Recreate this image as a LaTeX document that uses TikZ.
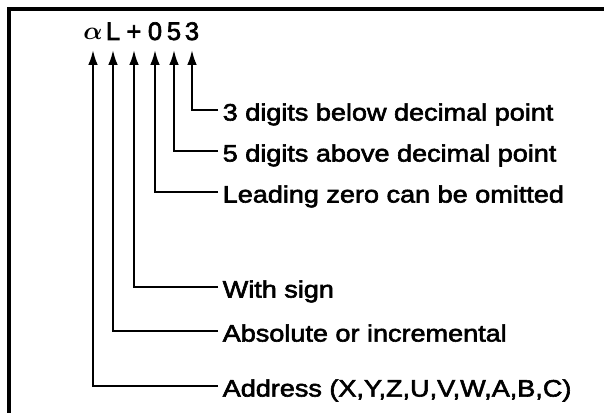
\documentclass[tikz,border=0pt]{standalone}
\usepackage{amsmath}
\usepackage{fontspec}
\setmainfont{Liberation Sans}
\newfontfamily\notefont[FakeStretch=1.14,FakeBold=2.5]{Liberation Sans}
\newfontfamily\digitfont[FakeBold=2.5]{Liberation Sans}
\usetikzlibrary{arrows.meta, positioning}

\begin{document}
\begin{tikzpicture}[
    x=0.02cm, y=-0.02cm,
    digit/.style={
        anchor=base, inner xsep=0pt, inner ysep=5.5pt, text depth=0pt,
        font=\digitfont\fontsize{14.5}{17}\selectfont
    },
    note/.style={
        anchor=west, inner xsep=2.5pt, text height=12pt, text depth=0pt,
        font=\notefont\fontsize{13.5}{16}\selectfont
    },
    arrow/.style={
        -{Latex[length=8.5pt, width=5.5pt]}, line width=1.2pt
    },
    frame/.style={
        line width=2pt
    }
]

    \useasboundingbox (0,0) rectangle (604,412);

    % Frame (only top and left edges show)
    \draw[frame] (9,430) |- (620,9);

    % Command word
    \node[digit] (ca) at (93,40) {$\boldsymbol{\alpha}$};
    \node[digit] (cl) at (113,40) {L};
    \node[digit] (cs) at (134,40) {+};
    \node[digit] (cz) at (155,40) {0};
    \node[digit] (cf) at (174,40) {5};
    \node[digit] (ct) at (192,40) {3};

    % Notes
    \node[note] (nt) at (218,110) {3 digits below decimal point};
    \node[note] (nf) at (218,151) {5 digits above decimal point};
    \node[note] (nz) at (218,192) {Leading zero can be omitted};
    \node[note] (ns) at (218,287) {With sign};
    \node[note] (nl) at (218,331) {Absolute or incremental};
    \node[note] (na) at (218,386) {Address (X,Y,Z,U,V,W,A,B,C)};

    % Links
    \draw[arrow] (nt.west) -| (ct.south);
    \draw[arrow] (nf.west) -| (cf.south);
    \draw[arrow] (nz.west) -| (cz.south);
    \draw[arrow] (ns.west) -| (cs.south);
    \draw[arrow] (nl.west) -| (cl.south);
    \draw[arrow] (na.west) -| (ca.south);

\end{tikzpicture}
\end{document}
